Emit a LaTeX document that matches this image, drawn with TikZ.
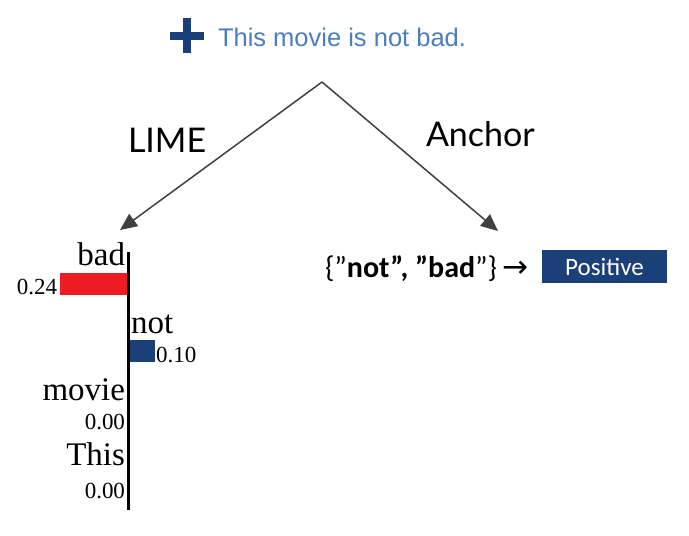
\documentclass[tikz,border=0pt]{standalone}
\usepackage{fontspec}
\setmainfont{Liberation Serif}
\newfontfamily\arialf{Liberation Sans}
\newfontfamily\latof{Lato}
\newfontfamily\calf{Carlito}
\newfontfamily\djf{DejaVu Sans}
\usetikzlibrary{arrows.meta}
\definecolor{navy}{HTML}{1B3F78}
\definecolor{ltblue}{HTML}{4A7EC0}
\definecolor{limered}{HTML}{ED1C24}
\definecolor{arrowgray}{HTML}{404040}
\begin{document}
\begin{tikzpicture}[x=1pt,y=-1pt,
  txt/.style={inner sep=0pt, outer sep=0pt},
  word/.style={txt, font=\fontsize{33}{38}\selectfont},
  val/.style={txt, font=\fontsize{23}{27}\selectfont},
  method/.style={txt, font=\latof\fontsize{34}{40}\selectfont},
  branch/.style={draw=arrowgray, line width=1.5pt, -{Triangle[length=17pt,width=15pt]}},
  bar/.style={inner sep=0pt, outer sep=0pt}]
\useasboundingbox (0,0) rectangle (689,536);
\fill[white] (0,0) rectangle (689,536);
% plus sign
\fill[navy] (170,32) rectangle (204,40);
\fill[navy] (183,18) rectangle (191,53);
\node[txt, anchor=base west, text=ltblue, font=\arialf\fontsize{25.5}{30}\selectfont] (sent) at (218,46) {This movie is not bad.};
\coordinate (apex) at (322,82);
\coordinate (limetip) at (120,230);
\coordinate (anchortip) at (498,231);
\draw[branch] (apex) -- (limetip);
\draw[branch] (apex) -- (anchortip);
\node[method, anchor=base west] (lime) at (128,152) {LIME};
\node[method, anchor=base west] (anch) at (426,146) {Anchor};
% LIME chart
\fill[limered] (60,273) rectangle (127,295);
\fill[navy] (129,340) rectangle (155,362);
\draw[black, line width=3pt] (128,252) -- (128,510);
\node[word, anchor=base east] (wbad) at (125,265) {bad};
\node[val, anchor=base east] (vbad) at (57,294) {0.24};
\node[word, anchor=base west] (wnot) at (131,333) {not};
\node[val, anchor=base west] (vnot) at (156,362) {0.10};
\node[word, anchor=base east] (wmovie) at (125,400) {movie};
\node[val, anchor=base east] (vmovie) at (125,429) {0.00};
\node[word, anchor=base east] (wthis) at (125,465) {This};
\node[val, anchor=base east] (vthis) at (125,498) {0.00};
% Anchor result
\node[txt, anchor=base west, font=\calf\fontsize{30}{34}\selectfont] (rule) at (325,277) {\{”\textbf{not”, ”bad}”\}\hspace{5pt}{\djf\fontsize{31}{34}\selectfont →}};
\node[bar, fill=navy, minimum width=125pt, minimum height=33pt, anchor=north west, text=white, font=\calf\fontsize{25}{28}\selectfont] (pos) at (542,250) {Positive};
\end{tikzpicture}
\end{document}
